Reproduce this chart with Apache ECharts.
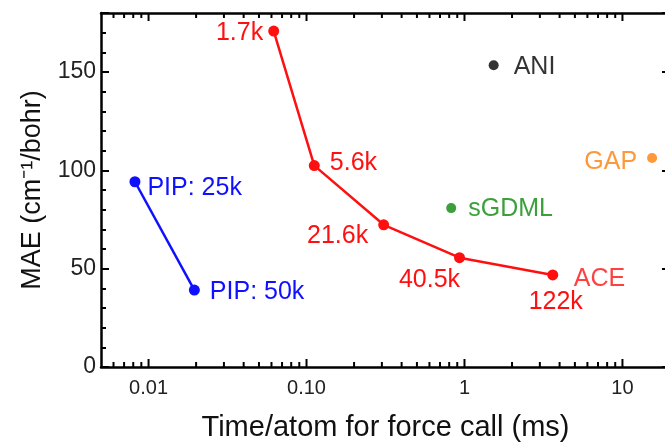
<!DOCTYPE html>
<html>
<head>
<meta charset="utf-8">
<script src="https://cdn.jsdelivr.net/npm/echarts@6/dist/echarts.min.js"></script>
<style>
html, body { margin: 0; padding: 0; background: #fff; }
#chart { width: 665px; height: 445px; }
</style>
</head>
<body>
<div id="chart"></div>
<script>
// ACE curve (time per atom in ms, MAE)
var aceTime = [0.062, 0.112, 0.308, 0.93, 3.62];
var aceMae = [170.8, 102.4, 72.3, 55.6, 46.8];
var aceLabels = ['1.7k', '5.6k', '21.6k', '40.5k', '122k'];

// PIP
var pipTime = [0.0082, 0.0195];
var pipMae = [94.2, 39.1];
var pipLabels = ['PIP: 25k', 'PIP: 50k'];

// single models
var aniPoint = [1.53, 153.4];
var sgdmlPoint = [0.824, 80.8];
var gapPoint = [15.4, 106.3];

var xMin = 0.005, xMax = 20;
var yMin = 0, yMax = 180;
var minorMult = [2, 3, 4, 5, 6, 7, 8, 9];
var decades = [0.001, 0.01, 0.1, 1, 10];

var FONT = 'Liberation Sans, Arial, Helvetica, sans-serif';

var chart = echarts.init(document.getElementById('chart'));

function pairs(xs, ys) {
    return xs.map(function (x, i) { return [x, ys[i]]; });
}

// label placement for each point
var aceLabelPos = [
    { position: 'left', distance: 5, offset: [0, 2] },
    { position: 'right', distance: 10, offset: [0, -3] },
    { position: 'left', distance: 10, offset: [0, 11] },
    { position: 'bottom', distance: 4, offset: [-30, 0] },
    { position: 'bottom', distance: 9, offset: [3, 0] }
];
var pipLabelPos = [
    { position: 'right', distance: 7, offset: [0, 6] },
    { position: 'right', distance: 10, offset: [0, 2] }
];

// log ticks: [value, length] -> decades long, 2..9 short
var xTicks = [];
decades.forEach(function (d) {
    if (d > xMin && d < xMax) xTicks.push([d, 8]);
    minorMult.forEach(function (m) {
        var v = d * m;
        if (v > xMin && v < xMax) xTicks.push([v, 5]);
    });
});

function isDecade(v) {
    var l = Math.log10(v);
    return Math.abs(l - Math.round(l)) < 1e-6;
}

function axisLine() {
    return { show: true, onZero: false, lineStyle: { color: '#000', width: 2.5 } };
}
function majorTick() {
    return { show: true, inside: true, length: 8, lineStyle: { color: '#000', width: 2 } };
}

var option = {
    animation: false,
    grid: { left: 101, top: 13, width: 569, height: 354, outerBoundsMode: 'none' },
    xAxis: [
        {
            type: 'log', min: xMin, max: xMax, position: 'bottom',
            axisLine: axisLine(),
            axisTick: { show: false },
            splitLine: { show: false },
            axisLabel: {
                fontSize: 20, color: '#222', fontFamily: FONT, margin: 11,
                formatter: function (v) {
                    if (!isDecade(v)) return '';
                    return v < 1 ? v.toFixed(2) : String(Math.round(v));
                }
            },
            name: 'Time/atom for force call (ms)',
            nameLocation: 'middle', nameGap: 46,
            nameTextStyle: { fontSize: 29, color: '#111', fontFamily: FONT }
        },
        {
            type: 'log', min: xMin, max: xMax, position: 'top',
            axisLine: axisLine(),
            axisTick: { show: false },
            splitLine: { show: false },
            axisLabel: { show: false }
        }
    ],
    yAxis: [
        {
            type: 'value', min: yMin, max: yMax, interval: 50, position: 'left',
            axisLine: axisLine(),
            axisTick: majorTick(),
            minorTick: { show: true, splitNumber: 5, length: 5, lineStyle: { color: '#000', width: 2 } },
            splitLine: { show: false },
            axisLabel: {
                fontSize: 23, color: '#222', fontFamily: FONT, margin: 5,
                formatter: function (v) { return v % 50 === 0 ? String(v) : ''; }
            },
            name: 'MAE (cm\u207B\u00B9/bohr)',
            nameLocation: 'middle', nameGap: 55,
            nameTextStyle: { fontSize: 27, color: '#111', fontFamily: FONT }
        },
        {
            type: 'value', min: yMin, max: yMax, interval: 50, position: 'right',
            axisLine: axisLine(),
            axisTick: majorTick(),
            minorTick: { show: true, splitNumber: 5, length: 5, lineStyle: { color: '#000', width: 2 } },
            splitLine: { show: false },
            axisLabel: { show: false }
        }
    ],
    series: [
        {
            // x ticks on bottom and top edges, drawn through the log axis
            type: 'custom',
            silent: true,
            clip: false,
            zlevel: 1,
            z: 10,
            data: xTicks,
            renderItem: function (params, api) {
                var x = api.value(0);
                var len = api.value(1);
                var b = api.coord([x, yMin]);
                var t = api.coord([x, yMax]);
                return {
                    type: 'group',
                    children: [
                        { type: 'rect', shape: { x: b[0] - 1, y: b[1] - len, width: 2, height: len }, style: { fill: '#000' } },
                        { type: 'rect', shape: { x: t[0] - 1, y: t[1], width: 2, height: len }, style: { fill: '#000' } }
                    ]
                };
            }
        },
        {
            name: 'ACE',
            type: 'line',
            data: pairs(aceTime, aceMae).map(function (p, i) {
                return {
                    value: p,
                    label: Object.assign({ show: true, formatter: aceLabels[i] }, aceLabelPos[i])
                };
            }),
            symbol: 'circle', symbolSize: 11,
            itemStyle: { color: '#ff1010' },
            lineStyle: { color: '#ff1010', width: 2.5 },
            label: { color: '#ff1010', fontSize: 25, fontFamily: FONT }
        },
        {
            name: 'ACE name',
            type: 'scatter',
            data: [[aceTime[4], aceMae[4]]],
            symbolSize: 0,
            label: {
                show: true, formatter: 'ACE', position: 'right', distance: 21, offset: [0, 4],
                color: '#ff1010', fontSize: 25, fontFamily: FONT
            }
        },
        {
            name: 'PIP',
            type: 'line',
            data: pairs(pipTime, pipMae).map(function (p, i) {
                return {
                    value: p,
                    label: Object.assign({ show: true, formatter: pipLabels[i] }, pipLabelPos[i])
                };
            }),
            symbol: 'circle', symbolSize: 11,
            itemStyle: { color: '#1010ff' },
            lineStyle: { color: '#1010ff', width: 2.5 },
            label: { color: '#1010ff', fontSize: 25, fontFamily: FONT }
        },
        {
            name: 'ANI',
            type: 'scatter',
            data: [aniPoint],
            symbolSize: 10,
            itemStyle: { color: '#000' },
            label: { show: true, formatter: 'ANI', position: 'right', distance: 15, offset: [0, 2], color: '#000', fontSize: 25, fontFamily: FONT }
        },
        {
            name: 'sGDML',
            type: 'scatter',
            data: [sgdmlPoint],
            symbolSize: 10,
            itemStyle: { color: '#0a880a' },
            label: { show: true, formatter: 'sGDML', position: 'right', distance: 12, offset: [0, 1], color: '#0a880a', fontSize: 25, fontFamily: FONT }
        },
        {
            name: 'GAP',
            type: 'scatter',
            data: [gapPoint],
            symbolSize: 10,
            itemStyle: { color: '#ff7d0a' },
            label: { show: true, formatter: 'GAP', position: 'left', distance: 10, offset: [0, 4], color: '#ff7d0a', fontSize: 25, fontFamily: FONT }
        }
    ]
};

chart.setOption(option);
</script>
</body>
</html>
